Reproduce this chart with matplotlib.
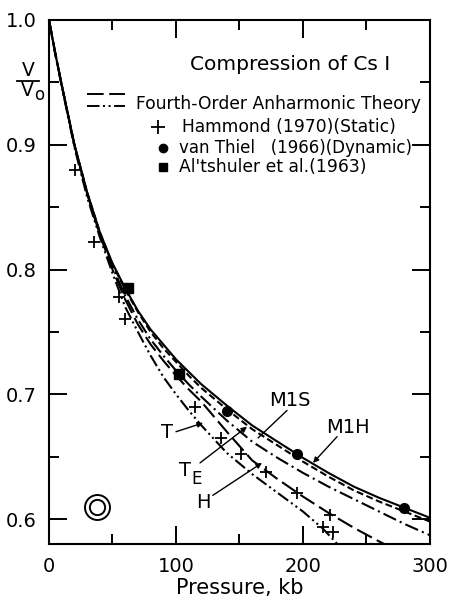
import matplotlib
matplotlib.use("Agg")
import matplotlib.pyplot as plt
from matplotlib.ticker import MultipleLocator

plt.rcParams['font.family'] = ['DejaVu Sans']
plt.rcParams['lines.scale_dashes'] = False

# ---------------- data ----------------
pressure_grid = [0, 5, 10, 20, 30, 40, 50, 60, 70, 80, 90, 100, 110, 120, 140, 160, 180, 200, 220, 240, 260, 280, 300]

m1h_v = [1.000, 0.973, 0.948, 0.900, 0.862, 0.830, 0.805, 0.785, 0.767, 0.752, 0.740, 0.728, 0.718, 0.708, 0.691, 0.675, 0.662, 0.649, 0.637, 0.626, 0.617, 0.609, 0.601]
m1s_v = [1.000, 0.973, 0.948, 0.900, 0.862, 0.830, 0.804, 0.784, 0.766, 0.750, 0.737, 0.726, 0.715, 0.705, 0.688, 0.672, 0.659, 0.646, 0.634, 0.623, 0.614, 0.606, 0.598]
te_v  = [1.000, 0.973, 0.948, 0.900, 0.861, 0.828, 0.802, 0.779, 0.760, 0.744, 0.731, 0.719, 0.708, 0.698, 0.679, 0.662, 0.649, 0.637, 0.626, 0.616, 0.606, 0.596, 0.587]
h_pressure = [0, 5, 10, 20, 30, 40, 50, 60, 70, 80, 90, 100, 110, 120, 140, 160, 180, 200, 220, 240, 260, 264]
h_v   = [1.000, 0.973, 0.948, 0.900, 0.861, 0.828, 0.800, 0.776, 0.756, 0.740, 0.727, 0.715, 0.704, 0.694, 0.670, 0.647, 0.632, 0.618, 0.605, 0.593, 0.582, 0.580]
t_pressure = [0, 5, 10, 20, 30, 40, 50, 60, 70, 80, 90, 100, 110, 120, 140, 160, 180, 200, 216, 227]
t_v   = [1.000, 0.972, 0.947, 0.898, 0.858, 0.826, 0.797, 0.770, 0.750, 0.731, 0.714, 0.700, 0.687, 0.675, 0.653, 0.636, 0.621, 0.606, 0.592, 0.580]

hammond_p = [20.5, 35.4, 55, 60, 115, 135.5, 151, 171, 195, 221, 216, 224]
hammond_v = [0.880, 0.822, 0.778, 0.760, 0.690, 0.665, 0.652, 0.6375, 0.621, 0.603, 0.594, 0.590]
vanthiel_p = [140, 195, 279.5]
vanthiel_v = [0.687, 0.652, 0.609]
altshuler_p = [62, 102]
altshuler_v = [0.785, 0.716]
symbol_p = [38]
symbol_v = [0.610]

x_ticks = [0, 100, 200, 300]
y_ticks = [0.6, 0.7, 0.8, 0.9, 1.0]
y_ticklabels = ['0.6', '0.7', '0.8', '0.9', '1.0']

# ---------------- figure ----------------
W, H = 452, 605
fig = plt.figure(figsize=(W / 100, H / 100), dpi=100)
ax = fig.add_axes([49 / W, 1 - 544 / H, (430 - 49) / W, (544 - 20) / H])

lw = 1.5
ax.plot(pressure_grid, m1h_v, color='black', lw=lw, solid_capstyle='butt')
l, = ax.plot(pressure_grid, m1s_v, color='black', lw=lw)
l.set_dashes((5, 2.5))
l, = ax.plot(pressure_grid, te_v, color='black', lw=lw)
l.set_dashes((10, 3, 1.5, 3))
l, = ax.plot(h_pressure, h_v, color='black', lw=lw)
l.set_dashes((12, 4))
l, = ax.plot(t_pressure, t_v, color='black', lw=lw)
l.set_dashes((9, 2.5, 1.5, 2.5, 1.5, 2.5))

ax.plot(hammond_p, hammond_v, linestyle='none', marker='+', markersize=8, mew=1.3, color='black')
ax.plot(vanthiel_p, vanthiel_v, linestyle='none', marker='o', markersize=7, color='black')
ax.plot(altshuler_p, altshuler_v, linestyle='none', marker='s', markersize=7, color='black')
ax.plot(symbol_p, symbol_v, linestyle='none', marker='o', markersize=18, mfc='none', mec='black', mew=1.4)
ax.plot(symbol_p, symbol_v, linestyle='none', marker='o', markersize=11, mfc='none', mec='black', mew=1.4)

ax.set_xlim(0, 300)
ax.set_ylim(0.58, 1.0)
ax.set_xticks(x_ticks)
ax.set_xticklabels([str(v) for v in x_ticks])
ax.set_yticks(y_ticks)
ax.set_yticklabels(y_ticklabels)
ax.xaxis.set_minor_locator(MultipleLocator(50))
ax.yaxis.set_minor_locator(MultipleLocator(0.05))
ax.tick_params(which='both', direction='in', top=True, right=True, width=1.4, labelsize=14, colors='black')
ax.tick_params(which='major', length=13)
ax.tick_params(which='minor', length=7)
ax.tick_params(axis='y', pad=9)
ax.tick_params(axis='x', pad=9)
for s in ax.spines.values():
    s.set_linewidth(1.5)

# axis labels
fig.text(240 / W, 1 - 588 / H, 'Pressure, kb', ha='center', va='center', fontsize=15)
fig.text(28 / W, 1 - 70 / H, 'V', ha='center', va='center', fontsize=13.5)
fig.add_artist(plt.Line2D([17 / W, 39 / W], [1 - 81 / H, 1 - 81 / H], color='black', lw=1.3))
fig.text(27 / W, 1 - 91 / H, 'V', ha='center', va='center', fontsize=13.5)
fig.text(39 / W, 1 - 95 / H, 'o', ha='center', va='center', fontsize=12)

# title and legend (axes fraction)
def axf(px, py):
    return ((px - 49) / 381, (544 - py) / 524)

ax.text(*axf(290, 65), 'Compression of Cs I', transform=ax.transAxes, ha='center', va='center', fontsize=14.5)
x0, y0 = axf(87, 94)
x1, _ = axf(125, 94)
l = plt.Line2D([x0, x1], [y0, y0], transform=ax.transAxes, color='black', lw=1.4)
l.set_dashes((12, 4))
ax.add_artist(l)
x0, y1 = axf(87, 106)
l = plt.Line2D([x0, x1], [y1, y1], transform=ax.transAxes, color='black', lw=1.4)
l.set_dashes((9, 2.5, 1.5, 2.5, 1.5, 2.5))
ax.add_artist(l)
ax.text(*axf(136, 104), 'Fourth-Order Anharmonic Theory', transform=ax.transAxes, ha='left', va='center', fontsize=12.3)
ax.plot(*axf(158, 127), marker='+', markersize=10, mew=1.3, color='black', transform=ax.transAxes)
ax.text(*axf(182, 127), 'Hammond (1970)(Static)', transform=ax.transAxes, ha='left', va='center', fontsize=12.3)
ax.plot(*axf(163, 148), marker='o', markersize=6, color='black', transform=ax.transAxes)
ax.text(*axf(179, 148), 'van Thiel   (1966)(Dynamic)', transform=ax.transAxes, ha='left', va='center', fontsize=12)
ax.plot(*axf(163, 167), marker='s', markersize=6, color='black', transform=ax.transAxes)
ax.text(*axf(179, 167), "Al'tshuler et al.(1963)", transform=ax.transAxes, ha='left', va='center', fontsize=12.3)

# curve labels with pointer lines (data coords)
arrow = dict(arrowstyle='-|>', mutation_scale=8, lw=1.0, color='black', shrinkA=0, shrinkB=0)
plain = dict(arrowstyle='-', lw=1.0, color='black', shrinkA=0, shrinkB=0)
ax.text(92.9, 0.669, 'T', ha='center', va='center', fontsize=14)
ax.annotate('', xy=(121.3, 0.677), xytext=(100, 0.670), arrowprops=arrow)
ax.text(107, 0.639, 'T', ha='center', va='center', fontsize=14)
ax.text(116, 0.632, 'E', ha='center', va='center', fontsize=12)
ax.annotate('', xy=(155.9, 0.674), xytext=(118.9, 0.645), arrowprops=arrow)
ax.text(121.3, 0.613, 'H', ha='center', va='center', fontsize=14)
ax.annotate('', xy=(167.7, 0.645), xytext=(129, 0.619), arrowprops=arrow)
ax.text(190, 0.695, 'M1S', ha='center', va='center', fontsize=14)
ax.annotate('', xy=(164.6, 0.665), xytext=(187.4, 0.687), arrowprops=plain)
ax.text(235.4, 0.673, 'M1H', ha='center', va='center', fontsize=14)
ax.annotate('', xy=(207.9, 0.645), xytext=(226.8, 0.666), arrowprops=arrow)

fig.savefig('out.png', dpi=100, facecolor='white')
